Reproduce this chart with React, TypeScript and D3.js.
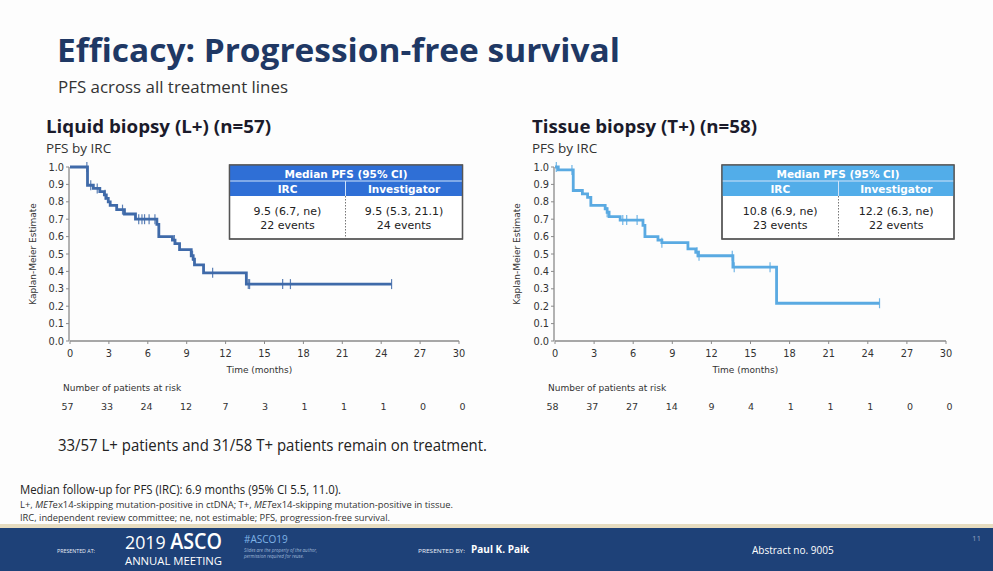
import React from "react";
import * as d3 from "d3";

// ---------- DATA ----------
const xTicks = [0, 3, 6, 9, 12, 15, 18, 21, 24, 27, 30];
const yTicks = [0, 0.1, 0.2, 0.3, 0.4, 0.5, 0.6, 0.7, 0.8, 0.9, 1.0];

// Liquid biopsy (L+) KM steps [time, survival]
const liquidSteps: [number, number][] = [
  [0, 1.0], [1.35, 0.895], [1.8, 0.877], [2.3, 0.858], [2.65, 0.84], [2.8, 0.82],
  [2.95, 0.8], [3.1, 0.78], [3.6, 0.755], [4.2, 0.73], [5.05, 0.7], [6.7, 0.67],
  [6.85, 0.6], [7.9, 0.58], [8.1, 0.56], [8.45, 0.525], [9.35, 0.49], [9.5, 0.47],
  [9.6, 0.437], [10.3, 0.392], [13.6, 0.327],
];
const liquidEnd = 24.8;
const liquidCensors = [1.3, 1.6, 2.1, 2.7, 4.05, 5.3, 5.55, 5.75, 6.1, 6.55, 8.05, 9.45, 11.0, 13.75, 13.85, 16.4, 17.0, 24.8];
const liquidAtRisk = [57, 33, 24, 12, 7, 3, 1, 1, 1, 0, 0];

// Tissue biopsy (T+) KM steps
const tissueSteps: [number, number][] = [
  [0, 1.0], [0.25, 0.983], [1.4, 0.865], [2.1, 0.845], [2.5, 0.825], [2.75, 0.78],
  [3.85, 0.76], [4.0, 0.74], [4.15, 0.715], [5.0, 0.695], [6.75, 0.665], [6.9, 0.6],
  [7.9, 0.58], [8.2, 0.565], [10.2, 0.53], [10.8, 0.51], [11.0, 0.49], [13.65, 0.424],
  [17.0, 0.217],
];
const tissueEnd = 24.9;
const tissueCensors = [0.1, 1.3, 4.0, 5.2, 5.5, 6.3, 8.2, 10.9, 11.05, 13.6, 13.75, 16.5, 24.9];
const tissueAtRisk = [58, 37, 27, 14, 9, 4, 1, 1, 1, 0, 0];

const liquidTable = { irc: "9.5 (6.7, ne)", ircEvents: "22 events", inv: "9.5 (5.3, 21.1)", invEvents: "24 events" };
const tissueTable = { irc: "10.8 (6.9, ne)", ircEvents: "23 events", inv: "12.2 (6.3, ne)", invEvents: "22 events" };

const FONT = "'DejaVu Sans', Verdana, sans-serif";
const FONT2 = "'Open Sans', 'Noto Sans', sans-serif";

type PanelProps = {
  x0: number; x1: number;
  steps: [number, number][]; end: number; censors: number[]; atRisk: number[];
  color: string; headColor: string;
  table: { irc: string; ircEvents: string; inv: string; invEvents: string };
  tableX: number; tableW: number; divX: number;
  title: string; titleX: number;
  yLabelX: number; atRiskX: number;
};

function survivalAt(steps: [number, number][], t: number) {
  let s = steps[0][1];
  for (const [tt, ss] of steps) if (tt <= t) s = ss;
  return s;
}

function Panel(p: PanelProps) {
  const x = d3.scaleLinear().domain([0, 30]).range([p.x0, p.x1]);
  const y = d3.scaleLinear().domain([0, 1]).range([341, 167]);
  const pts: [number, number][] = [...p.steps, [p.end, p.steps[p.steps.length - 1][1]]];
  const line = d3.line<[number, number]>().x(d => x(d[0])).y(d => y(d[1])).curve(d3.curveStepAfter);
  const tY = 165, h1 = 181, h2 = 196, bY = 239;
  const colL = (p.tableX + p.divX) / 2, colR = (p.divX + p.tableX + p.tableW) / 2;
  return (
    <g>
      <text x={p.titleX} y={133} fontFamily={FONT2} fontWeight={700} fontSize={18.5} fill="#1b1b2b" textLength={225} lengthAdjust="spacingAndGlyphs">{p.title}</text>
      <text x={p.titleX} y={153} fontFamily={FONT2} fontSize={13.5} fill="#333">PFS by IRC</text>
      {/* axes */}
      <line x1={x(0)} x2={x(30)} y1={y(0)} y2={y(0)} stroke="#8a8a8a" strokeWidth={1.3} />
      <line x1={x(0) - 1} x2={x(0) - 1} y1={y(0)} y2={y(1)} stroke="#8a8a8a" strokeWidth={1.3} />
      {yTicks.map(v => (
        <g key={"y" + v}>
          <line x1={x(0) - 4} x2={x(0) - 1} y1={y(v)} y2={y(v)} stroke="#8a8a8a" strokeWidth={1} />
          <text x={x(0) - 6} y={y(v) + 3.5} textAnchor="end" fontFamily={FONT} fontSize={9.8} fill="#333">{v.toFixed(1)}</text>
        </g>
      ))}
      {xTicks.map(v => (
        <g key={"x" + v}>
          <line x1={x(v)} x2={x(v)} y1={y(0)} y2={y(0) + 3} stroke="#8a8a8a" strokeWidth={1} />
          <text x={x(v)} y={357} textAnchor="middle" fontFamily={FONT} fontSize={9.8} fill="#333">{v}</text>
        </g>
      ))}
      <text x={x(14.6)} y={373} textAnchor="middle" fontFamily={FONT} fontSize={9} fill="#333">Time (months)</text>
      <text transform={`translate(${p.yLabelX},254) rotate(-90)`} textAnchor="middle" fontFamily={FONT} fontSize={9} fill="#333">Kaplan-Meier Estimate</text>
      {/* curve */}
      <path d={line(pts) || ""} fill="none" stroke={p.color} strokeWidth={2.8} />
      {p.censors.map((c, i) => (
        <line key={"c" + i} x1={x(c)} x2={x(c)} y1={y(survivalAt(p.steps, c)) - 5} y2={y(survivalAt(p.steps, c)) + 5} stroke={p.color} strokeWidth={1.2} opacity={0.85} />
      ))}
      {/* table */}
      <rect x={p.tableX} y={tY} width={p.tableW} height={bY - tY} fill="#fff" stroke="#555" strokeWidth={1.3} />
      <rect x={p.tableX} y={tY} width={p.tableW} height={h2 - tY} fill={p.headColor} />
      <line x1={p.tableX} x2={p.tableX + p.tableW} y1={h1} y2={h1} stroke="#cfe3fa" strokeWidth={1.2} />
      <line x1={p.divX} x2={p.divX} y1={h1} y2={h2} stroke="#cfe3fa" strokeWidth={1} />
      <line x1={p.divX} x2={p.divX} y1={h2} y2={bY} stroke="#777" strokeWidth={1} strokeDasharray="1.5,1.5" />
      <rect x={p.tableX} y={tY} width={p.tableW} height={bY - tY} fill="none" stroke="#555" strokeWidth={1.3} />
      <text x={p.tableX + p.tableW / 2} y={177.5} textAnchor="middle" fontFamily={FONT} fontWeight={700} fontSize={10.5} fill="#fff">Median PFS (95% CI)</text>
      <text x={colL} y={192.5} textAnchor="middle" fontFamily={FONT} fontWeight={700} fontSize={10.5} fill="#fff">IRC</text>
      <text x={colR} y={192.5} textAnchor="middle" fontFamily={FONT} fontWeight={700} fontSize={10.5} fill="#fff">Investigator</text>
      <text x={colL} y={215} textAnchor="middle" fontFamily={FONT} fontSize={11} fill="#222">{p.table.irc}</text>
      <text x={colL} y={229} textAnchor="middle" fontFamily={FONT} fontSize={11} fill="#222">{p.table.ircEvents}</text>
      <text x={colR} y={215} textAnchor="middle" fontFamily={FONT} fontSize={11} fill="#222">{p.table.inv}</text>
      <text x={colR} y={229} textAnchor="middle" fontFamily={FONT} fontSize={11} fill="#222">{p.table.invEvents}</text>
      {/* at risk */}
      <text x={p.atRiskX} y={391} fontFamily={FONT} fontSize={9} fill="#333">Number of patients at risk</text>
      {p.atRisk.map((n, i) => (
        <text key={"r" + i} x={x(xTicks[i]) + (i - 4) * 0.6} y={410} textAnchor="middle" fontFamily={FONT} fontSize={9.5} fill="#333">{n}</text>
      ))}
    </g>
  );
}

export default function App() {
  return (
    <svg width={993} height={571} viewBox="0 0 993 571" style={{ position: "absolute", left: 0, top: 0, background: "#fff" }}>
      <rect x={0} y={0} width={993} height={571} fill="#fdfdfd" />
      <text x={57} y={62} fontFamily={FONT2} fontWeight={700} fontSize={33} fill="#1f3864" textLength={563} lengthAdjust="spacingAndGlyphs">Efficacy: Progression-free survival</text>
      <text x={58} y={93} fontFamily={FONT2} fontSize={17} fill="#333" textLength={230} lengthAdjust="spacingAndGlyphs">PFS across all treatment lines</text>

      <Panel x0={70} x1={459} steps={liquidSteps} end={liquidEnd} censors={liquidCensors} atRisk={liquidAtRisk}
        color="#3f6aa9" headColor="#2f6fd6" table={liquidTable} tableX={229.5} tableW={233} divX={345.5}
        title="Liquid biopsy (L+) (n=57)" titleX={46} yLabelX={36} atRiskX={63} />
      <Panel x0={555} x1={946} steps={tissueSteps} end={tissueEnd} censors={tissueCensors} atRisk={tissueAtRisk}
        color="#5aaae2" headColor="#52ade9" table={tissueTable} tableX={722} tableW={232} divX={838.5}
        title="Tissue biopsy (T+) (n=58)" titleX={532} yLabelX={520} atRiskX={548} />

      <text x={58} y={451} fontFamily={FONT2} fontSize={16.5} fill="#222" textLength={429} lengthAdjust="spacingAndGlyphs">33/57 L+ patients and 31/58 T+ patients remain on treatment.</text>

      <text x={20} y={494} fontFamily={FONT2} fontSize={12} fill="#222" textLength={321} lengthAdjust="spacingAndGlyphs">Median follow-up for PFS (IRC): 6.9 months (95% CI 5.5, 11.0).</text>
      <text x={20} y={508} fontFamily={FONT2} fontSize={9} fill="#333" textLength={433} lengthAdjust="spacingAndGlyphs">
        L+, <tspan fontStyle="italic">MET</tspan>ex14-skipping mutation-positive in ctDNA; T+, <tspan fontStyle="italic">MET</tspan>ex14-skipping mutation-positive in tissue.
      </text>
      <text x={20} y={521} fontFamily={FONT2} fontSize={9} fill="#333" textLength={370} lengthAdjust="spacingAndGlyphs">IRC, independent review committee; ne, not estimable; PFS, progression-free survival.</text>

      {/* footer */}
      <rect x={0} y={524} width={993} height={4} fill="#e6dcc0" />
      <rect x={0} y={528} width={993} height={43} fill="#1e4178" />
      <text x={57} y={553} fontFamily={FONT2} fontSize={6} fill="#e8eef7" textLength={38} lengthAdjust="spacingAndGlyphs">PRESENTED AT:</text>
      <text x={125} y={549} fontFamily={FONT2} fontSize={19} fill="#fff" textLength={97} lengthAdjust="spacingAndGlyphs">
        2019 <tspan fontWeight={600} fontSize={21}>ASCO</tspan>
      </text>
      <text x={125} y={565} fontFamily={FONT2} fontSize={10} fill="#fff" textLength={97} lengthAdjust="spacingAndGlyphs">ANNUAL MEETING</text>
      <text x={244} y={543} fontFamily={FONT2} fontSize={10} fill="#7fb3e6">#ASCO19</text>
      <text x={244} y={552} fontFamily={FONT2} fontSize={4.5} fontStyle="italic" fill="#9fb7d6">Slides are the property of the author,</text>
      <text x={244} y={558} fontFamily={FONT2} fontSize={4.5} fontStyle="italic" fill="#9fb7d6">permission required for reuse.</text>
      <text x={418} y={553} fontFamily={FONT2} fontSize={6} fill="#e8eef7" textLength={47} lengthAdjust="spacingAndGlyphs">PRESENTED BY:</text>
      <text x={471} y={553} fontFamily={FONT2} fontSize={10} fontWeight={700} fill="#fff">Paul K. Paik</text>
      <text x={752} y={554} fontFamily={FONT2} fontSize={10} fill="#fff">Abstract no. 9005</text>
      <text x={972} y={541} fontFamily={FONT2} fontSize={8} fill="#8d9fbd">11</text>
    </svg>
  );
}
